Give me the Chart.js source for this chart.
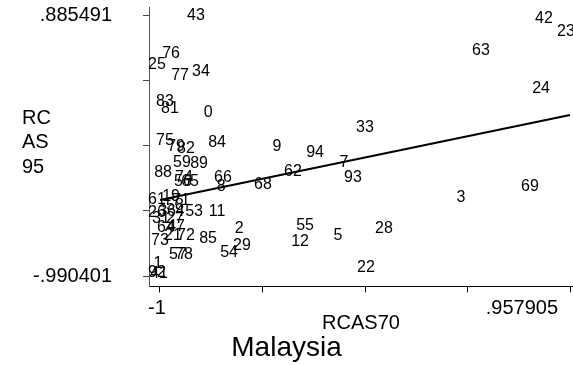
<!DOCTYPE html>
<html>
<head>
<meta charset="utf-8">
<script src="https://cdn.jsdelivr.net/npm/chart.js@4.4.1/dist/chart.umd.min.js"></script>
<style>
  html, body { margin: 0; padding: 0; background: #fff; }
</style>
</head>
<body>
<canvas id="myChart" width="573" height="365"></canvas>
<script>
// Country codes used as marker labels
var ids = ['43','76','25','77','34','83','81','0','75','79','82','84','9','59','89','88','74','56','65','66',
           '8','68','62','94','7','93','33','63','42','23','24','3','69','55','12','5','28','22','11','53',
           '2','29','54','85','72','21','73','64','47','57','78','1','92','41','61','19','71','58','26','36',
           '4','31','27'];
// RCA in 1970 (x) and 1995 (y)
var rcas70 = [-.814,-.933,-1,-.890,-.790,-.962,-.938,-.756,-.962,-.909,-.862,-.713,-.427,-.881,-.799,-.971,-.871,-.876,-.842,-.685,
              -.694,-.494,-.351,-.245,-.107,-.064,-.007,.547,.848,.953,.834,.452,.781,-.293,-.317,-.136,.084,-.002,-.713,-.823,
              -.608,-.594,-.656,-.756,-.862,-.924,-.986,-.957,-.909,-.900,-.871,-.995,-1,-.990,-1,-.933,-.885,-.914,-1,-.952,
              -.890,-.981,-.914];
var rcas95 = [.878,.605,.526,.447,.476,.260,.210,.181,-.020,-.063,-.078,-.034,-.063,-.178,-.185,-.250,-.286,-.315,-.315,-.286,
              -.351,-.336,-.243,-.106,-.178,-.286,.073,.627,.857,.763,.354,-.430,-.351,-.631,-.746,-.703,-.653,-.933,-.530,-.530,
              -.653,-.775,-.825,-.725,-.703,-.703,-.739,-.645,-.638,-.840,-.840,-.904,-.969,-.976,-.444,-.423,-.451,-.487,-.538,-.530,
              -.530,-.581,-.581];

// fitted regression line, end points
var fitX = [-1, .957905];
var fitY = [-.444, .167];

// axis ticks (only the ends carry a label)
var xTicks = [-1, -.510524, -.021048, .468429, .957905];
var xTickLabels = ['-1', '', '', '', '.957905'];
var yTicks = [-.990401, -.521428, -.052455, .416518, .885491];
var yTickLabels = ['-.990401', '', '', '', '.885491'];

var yTitleLines = ['RC', 'AS', '95'];

var FONT = '"Liberation Sans", Arial, Helvetica, sans-serif';

var points = ids.map(function (id, i) { return { x: rcas70[i], y: rcas95[i] }; });
var fit = fitX.map(function (v, i) { return { x: v, y: fitY[i] }; });

// write the codes in place of markers
var markerLabels = {
  id: 'markerLabels',
  beforeDatasetsDraw: function (chart) {
    var ctx = chart.ctx, xs = chart.scales.x, ys = chart.scales.y;
    ctx.save();
    ctx.font = '16px ' + FONT;
    ctx.fillStyle = '#000';
    ctx.textAlign = 'center';
    ctx.textBaseline = 'middle';
    ids.forEach(function (id, i) {
      ctx.fillText(id, xs.getPixelForValue(rcas70[i]) - 3, ys.getPixelForValue(rcas95[i]));
    });
    ctx.restore();
  }
};

// horizontal, stacked y axis title
var yTitle = {
  id: 'yTitle',
  afterDraw: function (chart) {
    var ctx = chart.ctx, a = chart.chartArea;
    var mid = (a.top + a.bottom) / 2 - 4;
    ctx.save();
    ctx.font = '20px ' + FONT;
    ctx.fillStyle = '#000';
    ctx.textAlign = 'left';
    ctx.textBaseline = 'middle';
    yTitleLines.forEach(function (t, i) {
      ctx.fillText(t, 22, mid + (i - 1) * 24.5);
    });
    ctx.restore();
  }
};

var ctx = document.getElementById('myChart');
var myChart = new Chart(ctx, {
  data: {
    datasets: [
      {
        type: 'scatter',
        data: points,
        pointRadius: 0,
        pointHoverRadius: 0
      },
      {
        type: 'line',
        data: fit,
        borderColor: '#000',
        borderWidth: 2,
        pointRadius: 0,
        fill: false
      }
    ]
  },
  options: {
    responsive: false,
    animation: false,
    layout: { padding: { top: 7, left: 0, right: 0, bottom: 0 } },
    plugins: {
      legend: { display: false },
      tooltip: { enabled: false },
      title: {
        display: true,
        position: 'bottom',
        text: 'Malaysia',
        color: '#000',
        font: { family: FONT, size: 28, weight: 'normal', lineHeight: 1.2 },
        padding: { top: 0, bottom: 0 }
      }
    },
    scales: {
      x: {
        type: 'linear',
        min: -1.0525,
        max: .9722,
        afterBuildTicks: function (s) { s.ticks = xTicks.map(function (v) { return { value: v }; }); },
        afterFit: function (s) { s.height = 45; s.paddingLeft = 0; s.paddingRight = 0; },
        grid: { drawOnChartArea: false, tickLength: 6, color: '#000' },
        border: { display: true, color: '#000', width: 1 },
        ticks: {
          align: 'inner',
          labelOffset: -12,
          padding: 4,
          color: '#000',
          font: { family: FONT, size: 20 },
          maxRotation: 0,
          autoSkip: false,
          callback: function (v, i) { return xTickLabels[i]; }
        },
        title: {
          display: true,
          text: 'RCAS70',
          color: '#000',
          font: { family: FONT, size: 20, lineHeight: 1 },
          padding: { top: 0, bottom: -2 }
        }
      },
      y: {
        type: 'linear',
        min: -1.0651,
        max: .9430,
        afterBuildTicks: function (s) { s.ticks = yTicks.map(function (v) { return { value: v }; }); },
        afterFit: function (s) { s.width = 149; s.paddingTop = 0; s.paddingBottom = 0; },
        grid: { drawOnChartArea: false, tickLength: 6, color: '#444' },
        border: { display: true, color: '#555', width: 1 },
        ticks: {
          padding: 31,
          color: '#000',
          font: { family: FONT, size: 20 },
          autoSkip: false,
          callback: function (v, i) { return yTickLabels[i]; }
        }
      }
    }
  },
  plugins: [markerLabels, yTitle]
});
</script>
</body>
</html>
